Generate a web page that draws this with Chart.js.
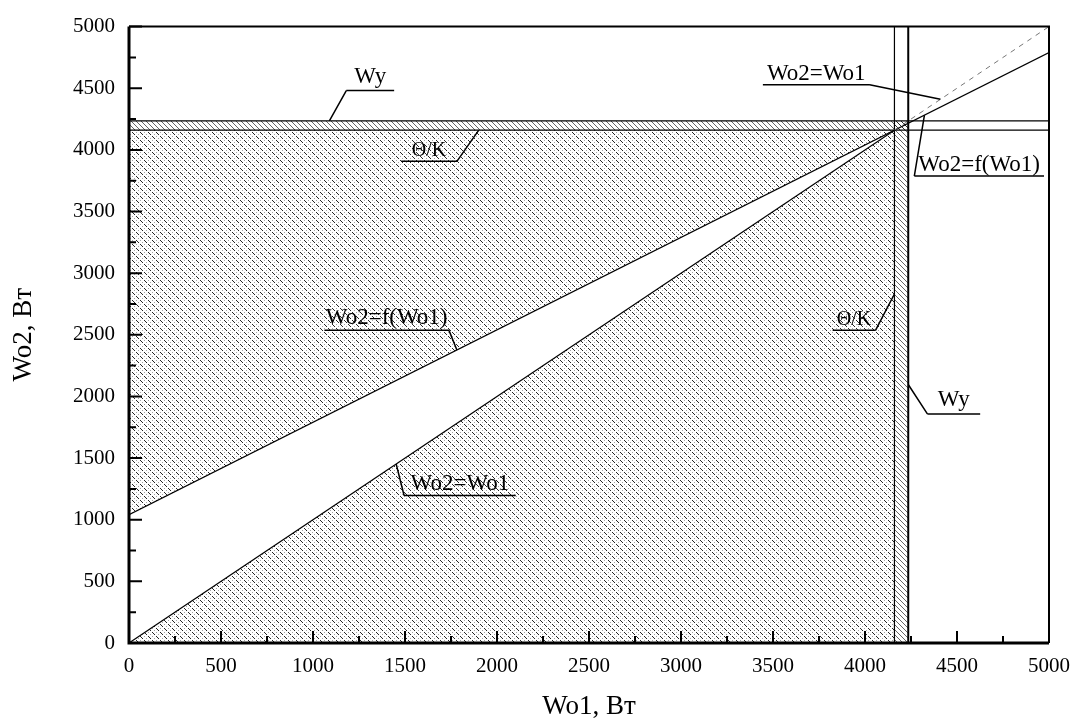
<!DOCTYPE html>
<html>
<head>
<meta charset="utf-8">
<script src="https://cdn.jsdelivr.net/npm/chart.js@4.4.1/dist/chart.umd.min.js"></script>
<style>
  html, body { margin: 0; padding: 0; background: #fff; }
  #wrap { width: 1081px; height: 723px; position: relative; }
</style>
</head>
<body>
<div id="wrap"><canvas id="chart"></canvas></div>
<script>
// both axes run 0..5000 W
const tickValues = [0, 500, 1000, 1500, 2000, 2500, 3000, 3500, 4000, 4500, 5000];
const tickLabels = ['0', '500', '1000', '1500', '2000', '2500', '3000', '3500', '4000', '4500', '5000'];
const minorTicks = [250, 750, 1250, 1750, 2250, 2750, 3250, 3750, 4250, 4750];

// Wo2 = Wo1 (solid up to the crossing, dashed after it)
const eqX = [0, 4160];
const eqY = [0, 4160];
const eqDashX = [4160, 5000];
const eqDashY = [4160, 5000];

// Wo2 = f(Wo1)
const fX = [0, 5000];
const fY = [1040, 4790];

// limit lines
const thetaK = 4160;   // Θ/K
const wyLimit = 4235;  // Wy

const FONT = "'Liberation Serif', 'Times New Roman', serif";

const pts = (xs, ys) => xs.map((v, i) => ({x: v, y: ys[i]}));

// where f(Wo1) reaches the Θ/K level
const fSlope = (fY[1] - fY[0]) / (fX[1] - fX[0]);
const fAtTheta = (thetaK - fY[0]) / fSlope;

// hatch patterns
function makePattern(size, marks) {
  const c = document.createElement('canvas');
  c.width = size; c.height = size;
  const g = c.getContext('2d');
  marks.forEach(m => {
    g.fillStyle = m[2];
    g.fillRect(m[0], m[1], 1, 1);
  });
  return g.createPattern(c, 'repeat');
}

const dotMarks = [];
for (let i = 0; i < 8; i++) {
  if (i % 4 !== 3) dotMarks.push([i, i, 'rgba(0,0,0,0.85)']);
  if (i % 2 === 0) dotMarks.push([i, (i + 4) % 8, 'rgba(0,0,0,0.35)']);
}
const bandMarks = [];
for (let i = 0; i < 5; i++) bandMarks.push([i, i, 'rgba(0,0,0,0.6)']);

const dotHatch = makePattern(8, dotMarks);
const bandHatch = makePattern(5, bandMarks);

const line = (data, extra) => Object.assign({
  data: data,
  borderColor: '#000',
  borderWidth: 1,
  pointRadius: 0,
  fill: false,
  tension: 0,
  order: 1
}, extra);

const shape = (data, pattern) => ({
  data: data,
  borderColor: 'rgba(0,0,0,0)',
  borderWidth: 0,
  backgroundColor: pattern,
  pointRadius: 0,
  fill: 'shape',
  tension: 0,
  order: 5
});

const datasets = [
  line(pts(eqX, eqY), {borderWidth: 1.2}),
  line(pts(eqDashX, eqDashY), {borderColor: '#777', borderDash: [5, 5]}),
  line(pts(fX, fY), {borderWidth: 1.2}),
  line(pts([0, 5000], [thetaK, thetaK]), {borderWidth: 1.4}),
  line(pts([0, 5000], [wyLimit, wyLimit]), {borderWidth: 1.4}),
  line(pts([thetaK, thetaK], [0, 5000]), {borderWidth: 1.2}),
  line(pts([wyLimit, wyLimit], [0, 5000]), {borderWidth: 2}),
  shape(pts([fX[0], fAtTheta, 0], [fY[0], thetaK, thetaK]), dotHatch),
  shape(pts([eqX[0], eqX[1], thetaK], [eqY[0], eqY[1], 0]), dotHatch),
  shape(pts([0, wyLimit, wyLimit, 0], [thetaK, thetaK, wyLimit, wyLimit]), bandHatch),
  shape(pts([thetaK, wyLimit, wyLimit, thetaK], [0, 0, wyLimit, wyLimit]), bandHatch)
];

// callout labels: underline from/to, leader to a point on the curve
const notes = [
  {text: 'Wy', from: [1181, 4481], to: [1441, 4481], leader: [1089, wyLimit], side: 'left', size: 23, gap: 8},
  {text: 'Θ/K', from: [1479, 3907], to: [1782, 3907], leader: [1901, thetaK], side: 'right', size: 20, gap: 5},
  {text: 'Wo2=Wo1', from: [3445, 4529], to: [4025, 4529], leader: [4410, 4410], side: 'right', size: 23, gap: 5},
  {text: 'Wo2=f(Wo1)', from: [4268, 3788], to: [4973, 3788], leader: [4323, 4282], side: 'left', size: 23, gap: 5},
  {text: 'Wo2=f(Wo1)', from: [1062, 2536], to: [1739, 2536], leader: [1782, 2377], side: 'right', size: 23, gap: 6},
  {text: 'Wo2=Wo1', from: [1495, 1196], to: [2102, 1196], leader: [1452, 1452], side: 'left', size: 23, gap: 6},
  {text: 'Θ/K', from: [3824, 2536], to: [4057, 2536], leader: [thetaK, 2831], side: 'right', size: 20, gap: 5},
  {text: 'Wy', from: [4339, 1858], to: [4626, 1858], leader: [wyLimit, 2097], side: 'left', size: 23, gap: 8}
];

const decor = {
  id: 'decor',
  afterDatasetsDraw(chart) {
    const {ctx, chartArea: a, scales: {x, y}} = chart;
    ctx.save();
    ctx.strokeStyle = '#000';

    // inward ticks
    ctx.lineWidth = 2;
    ctx.beginPath();
    tickValues.forEach(v => {
      const px = x.getPixelForValue(v), py = y.getPixelForValue(v);
      ctx.moveTo(px, a.bottom); ctx.lineTo(px, a.bottom - 12);
      ctx.moveTo(a.left, py); ctx.lineTo(a.left + 13, py);
    });
    minorTicks.forEach(v => {
      const px = x.getPixelForValue(v), py = y.getPixelForValue(v);
      ctx.moveTo(px, a.bottom); ctx.lineTo(px, a.bottom - 7);
      ctx.moveTo(a.left, py); ctx.lineTo(a.left + 7, py);
    });
    ctx.stroke();

    // frame
    ctx.lineWidth = 2;
    ctx.beginPath();
    ctx.moveTo(a.left, a.top); ctx.lineTo(a.right, a.top); ctx.lineTo(a.right, a.bottom);
    ctx.stroke();
    ctx.lineWidth = 3;
    ctx.beginPath();
    ctx.moveTo(a.left, a.top); ctx.lineTo(a.left, a.bottom); ctx.lineTo(a.right, a.bottom);
    ctx.stroke();

    // callouts
    ctx.lineWidth = 1.5;
    ctx.fillStyle = '#000';
    ctx.textAlign = 'center';
    ctx.textBaseline = 'alphabetic';
    notes.forEach(n => {
      const x1 = x.getPixelForValue(n.from[0]), x2 = x.getPixelForValue(n.to[0]);
      const uy = y.getPixelForValue(n.from[1]);
      const lx = x.getPixelForValue(n.leader[0]), ly = y.getPixelForValue(n.leader[1]);
      const ex = n.side === 'left' ? x1 : x2;
      ctx.beginPath();
      ctx.moveTo(x1, uy); ctx.lineTo(x2, uy);
      ctx.moveTo(ex, uy); ctx.lineTo(lx, ly);
      ctx.stroke();
      ctx.font = n.size + 'px ' + FONT;
      ctx.fillText(n.text, (x1 + x2) / 2, uy - n.gap);
    });
    ctx.restore();
  }
};

const tickFont = {family: FONT, size: 21};

new Chart(document.getElementById('chart'), {
  type: 'line',
  data: {datasets: datasets},
  plugins: [decor],
  options: {
    responsive: true,
    maintainAspectRatio: false,
    animation: false,
    layout: {padding: {left: 0, right: 29, top: 16, bottom: 0}},
    plugins: {legend: {display: false}, tooltip: {enabled: false}},
    scales: {
      x: {
        type: 'linear',
        min: 0,
        max: 5000,
        grid: {display: false, drawTicks: false},
        border: {display: false},
        afterBuildTicks: s => { s.ticks = tickValues.map(v => ({value: v})); },
        afterFit: s => { s.height = 80; },
        ticks: {
          color: '#000',
          font: tickFont,
          padding: 11,
          maxRotation: 0,
          callback: (v, i) => tickLabels[i]
        },
        title: {
          display: true,
          text: 'Wo1, Вт',
          color: '#000',
          font: {family: FONT, size: 27},
          padding: {top: 0, bottom: 0}
        }
      },
      y: {
        type: 'linear',
        min: 0,
        max: 5000,
        grid: {display: false, drawTicks: false},
        border: {display: false},
        afterBuildTicks: s => { s.ticks = tickValues.map(v => ({value: v})); },
        afterFit: s => { s.width = 129; },
        ticks: {
          color: '#000',
          font: tickFont,
          padding: 14,
          callback: (v, i) => tickLabels[i]
        },
        title: {
          display: true,
          text: 'Wo2, Вт',
          color: '#000',
          font: {family: FONT, size: 27},
          padding: {top: 8, bottom: 0}
        }
      }
    }
  }
});
</script>
</body>
</html>
